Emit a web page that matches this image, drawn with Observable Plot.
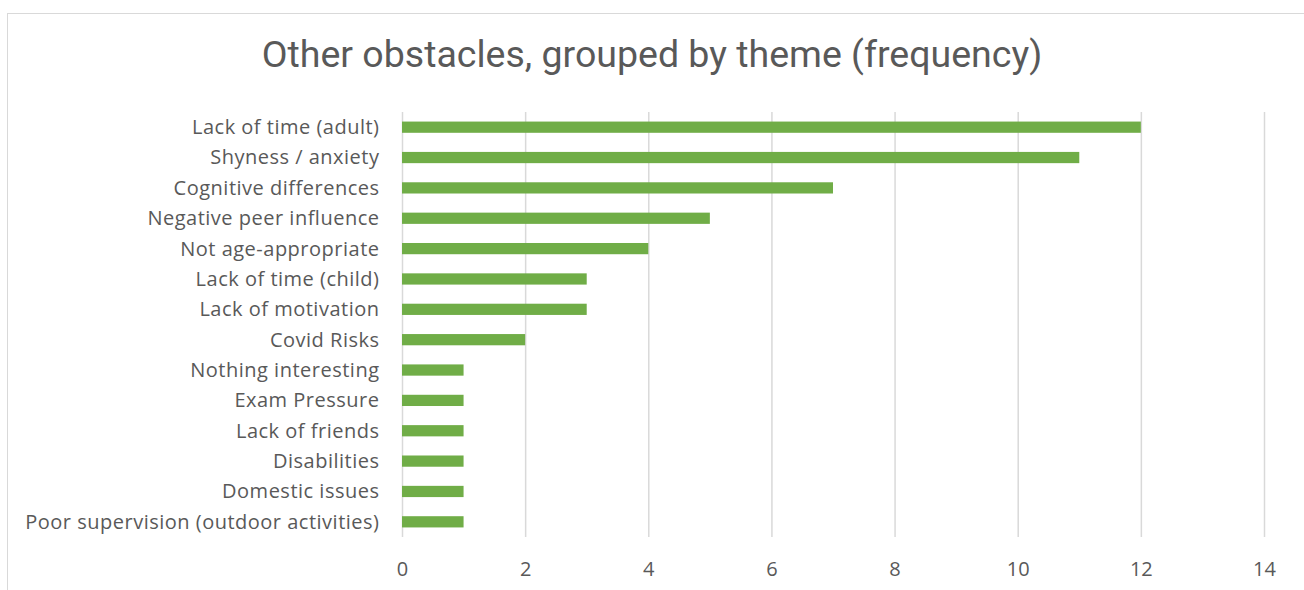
<!DOCTYPE html>
<html><head><meta charset="utf-8">
<script src="https://cdn.jsdelivr.net/npm/d3@7"></script>
<script src="https://cdn.jsdelivr.net/npm/@observablehq/plot@0.6"></script>
<style>
html,body{margin:0;padding:0;background:#fff;}
#wrap{position:relative;width:1304px;height:590px;overflow:hidden;font-family:"Open Sans",sans-serif;}
#frame{position:absolute;left:7px;top:13px;width:1320px;height:620px;border:1.5px solid #d9d9d9;box-sizing:border-box;}
#title{position:absolute;left:0;top:0;width:1304px;height:90px;text-align:center;line-height:1;font-family:Roboto,sans-serif;font-size:37.5px;color:#595959;padding-top:36.4px;box-sizing:border-box;font-weight:400;}
#chart{position:absolute;left:0;top:90px;}
#chart svg g[aria-label="y-axis tick label"] text{letter-spacing:0.5px;}
</style></head><body>
<div id="wrap"><div id="frame"></div><div id="title">Other obstacles, grouped by theme (frequency)</div><div id="chart"></div></div>
<script>
const categories = ["Lack of time (adult)","Shyness / anxiety","Cognitive differences","Negative peer influence","Not age-appropriate","Lack of time (child)","Lack of motivation","Covid Risks","Nothing interesting","Exam Pressure","Lack of friends","Disabilities","Domestic issues","Poor supervision (outdoor activities)"];
const values = [12,11,7,5,4,3,3,2,1,1,1,1,1,1];
const xTicks = [0,2,4,6,8,10,12,14];
const data = categories.map((c,i)=>({category:c,value:values[i]}));
const chart = Plot.plot({
  width:1304, height:500,
  marginLeft:402, marginRight:40, marginTop:22, marginBottom:53,
  style:{fontFamily:"'Open Sans',sans-serif",fontSize:"20px",color:"#595959",background:"transparent"},
  x:{domain:[0,14],ticks:xTicks,label:null},
  y:{domain:categories,label:null,paddingInner:0.63,paddingOuter:0.315,round:false},
  marks:[
    Plot.gridX(xTicks,{stroke:"#d9d9d9",strokeOpacity:1,strokeWidth:1.5}),
    Plot.barX(data,{x:"value",y:"category",fill:"#70AD47"}),
    Plot.axisX({ticks:xTicks,tickSize:0,tickPadding:24,fontSize:20,label:null}),
    Plot.axisY({tickSize:0,tickPadding:23,fontSize:20,label:null})
  ]
});
document.getElementById("chart").appendChild(chart);
</script></body></html>
